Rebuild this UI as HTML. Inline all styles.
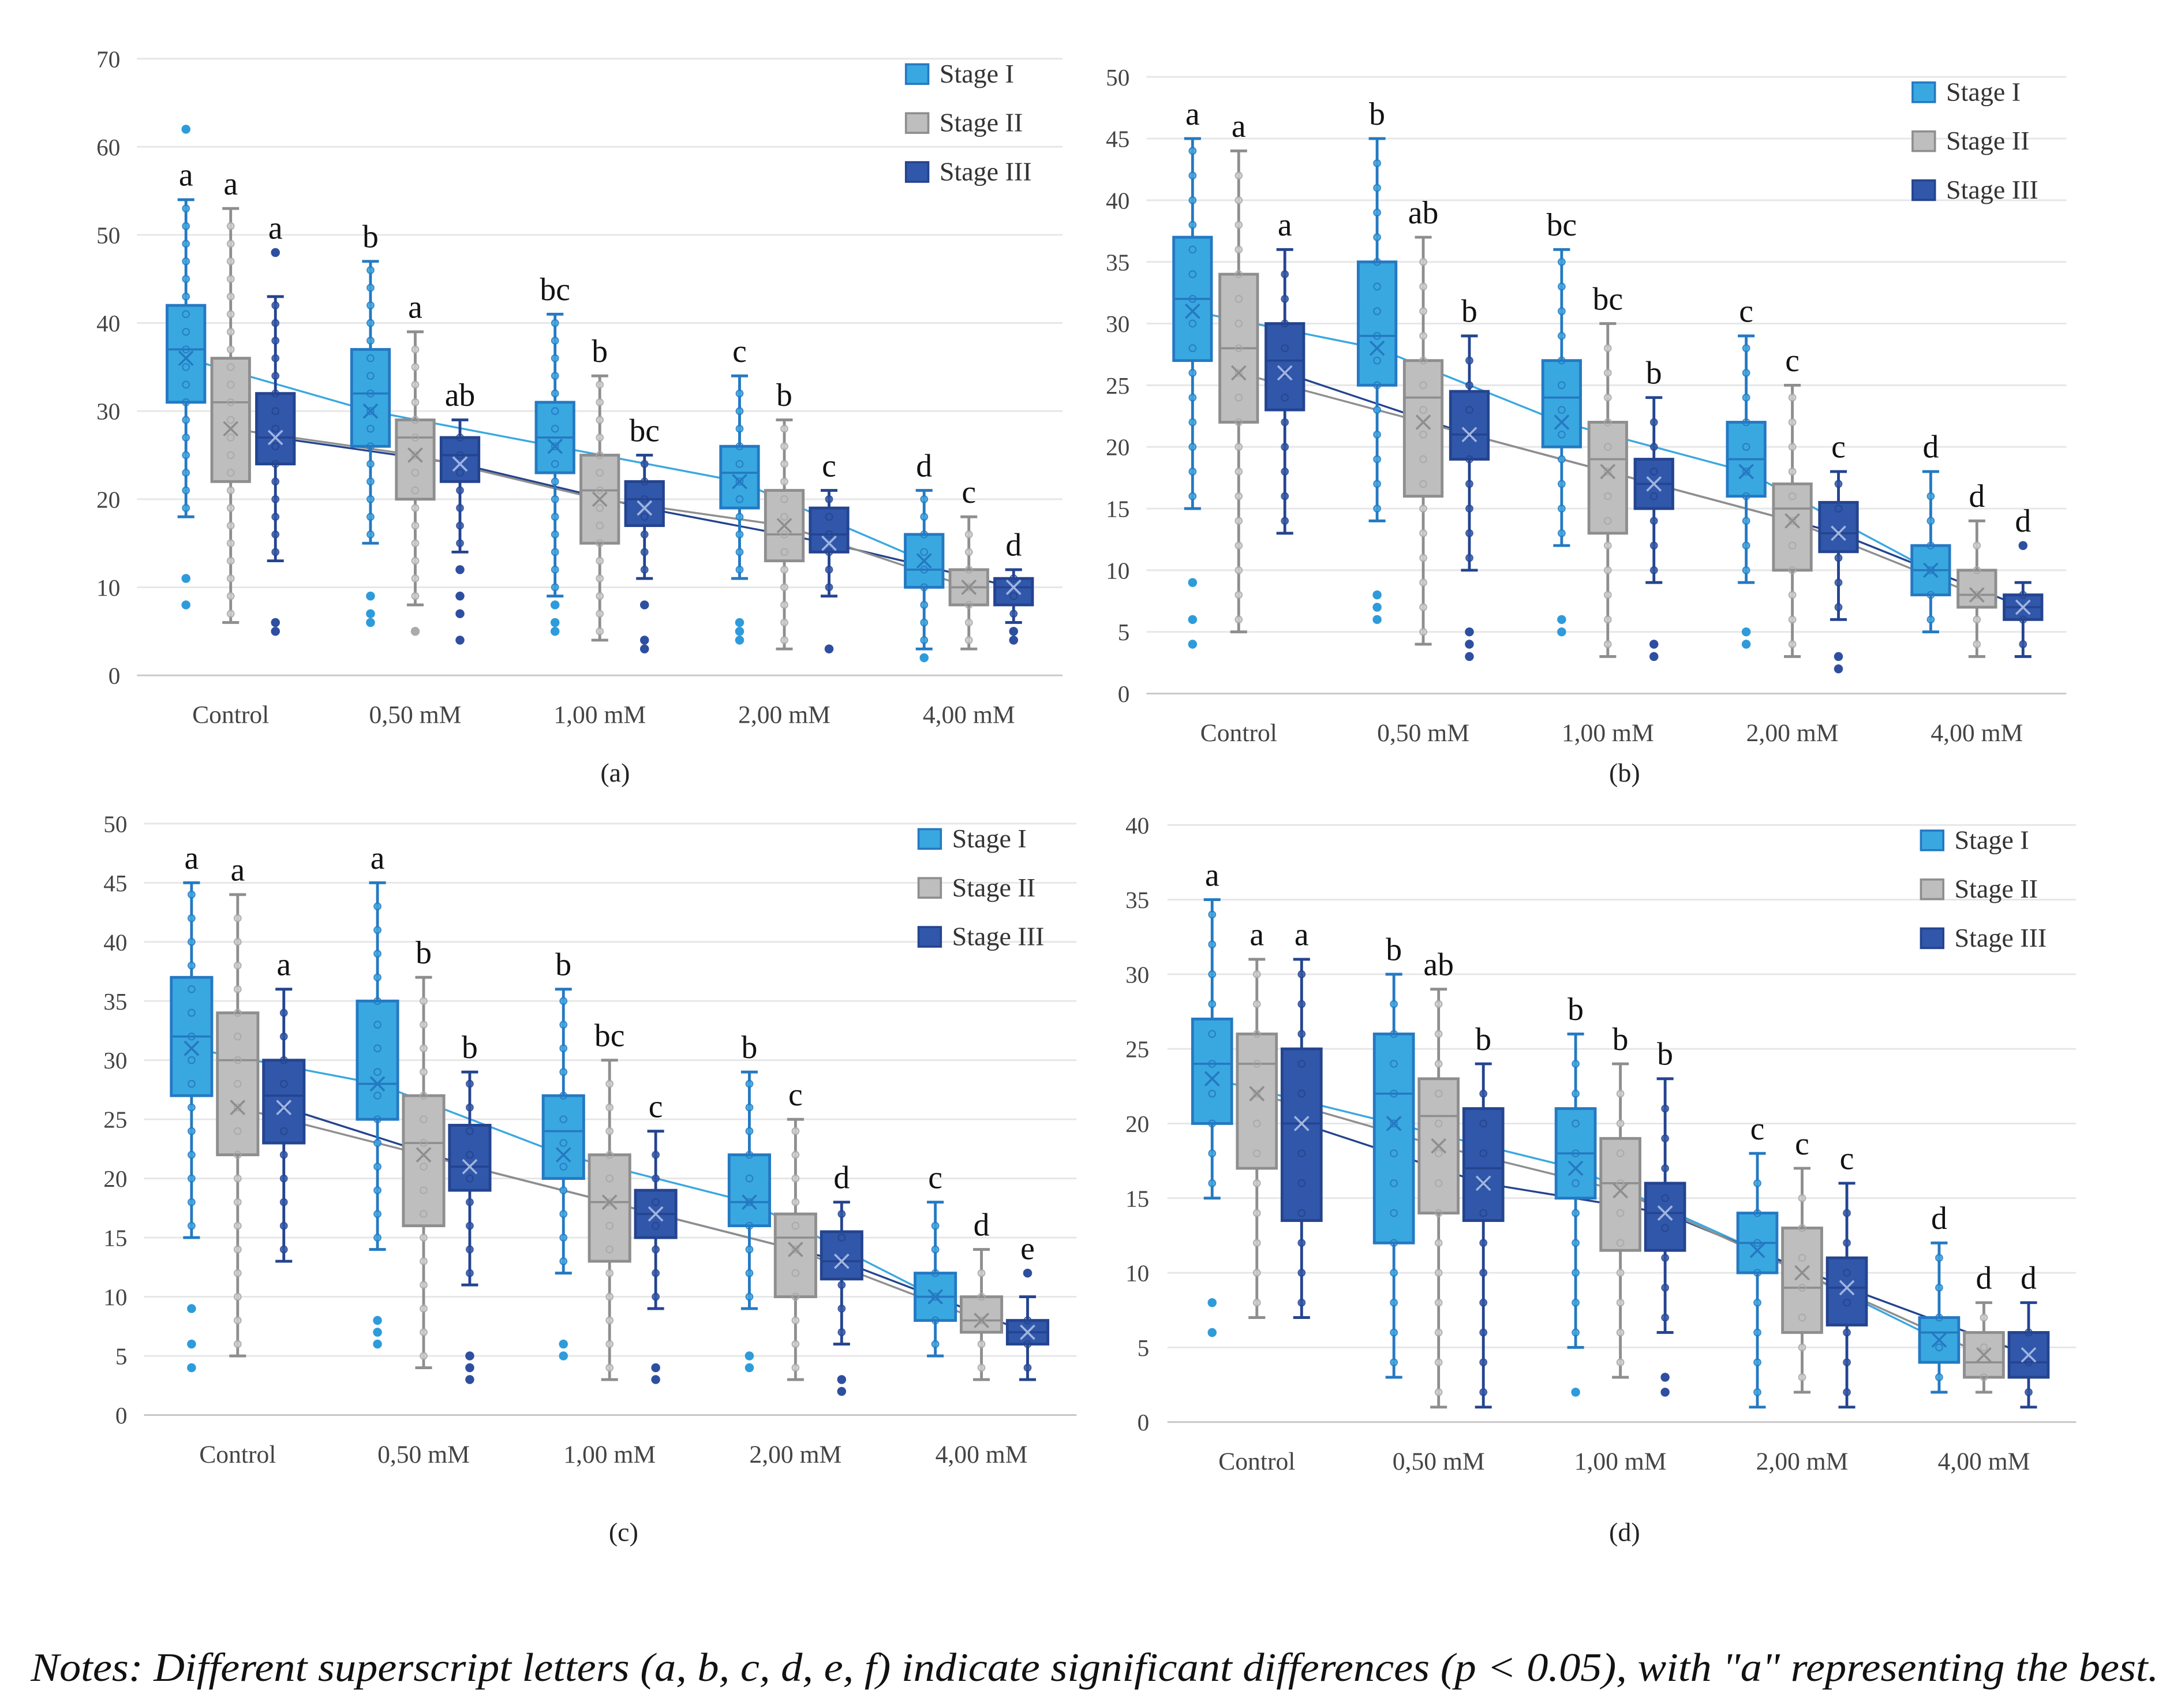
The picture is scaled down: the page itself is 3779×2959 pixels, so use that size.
<!DOCTYPE html>
<html><head><meta charset="utf-8"><style>
html,body{margin:0;padding:0;background:#fff;}
svg{display:block;}
</style></head><body>
<svg id="fig" xmlns="http://www.w3.org/2000/svg" width="3779" height="2959" viewBox="0 0 1560 1221.5">
<rect x="0" y="0" width="1560" height="1221.5" fill="#fff"/>
<text x="22" y="1202" textLength="1522" lengthAdjust="spacingAndGlyphs" font-family="Liberation Serif, serif" font-style="italic" font-size="29" fill="#111">Notes: Different superscript letters (a, b, c, d, e, f) indicate significant differences (p &lt; 0.05), with "a" representing the best.</text>
</svg>
<script>
const categories = ["Control","0,50 mM","1,00 mM","2,00 mM","4,00 mM"];
const stages = ["Stage I","Stage II","Stage III"];
// [low, q1, median, q3, high]
const aStage1 = [[18,31,37,42,54],[15,26,32,37,47],[9,23,27,31,41],[11,19,23,26,34],[3,10,12,16,21]];
const aStage2 = [[6,22,31,36,53],[8,20,27,29,39],[4,15,21,25,34],[3,13,16,21,29],[3,8,10,12,18]];
const aStage3 = [[13,24,27,32,43],[14,22,25,27,29],[11,17,20,22,25],[9,14,16,19,21],[6,8,10,11,12]];
const aMeans = [[36,30,26,22,13],[28,25,20,17,10],[27,24,19,15,10]];
const aLetters = [["a","b","bc","c","d"],["a","a","b","b","c"],["a","ab","bc","c","d"]];
const aOut = [[[62,11,8],[9,7,6],[8,6,5],[6,5,4],[2]],[[],[5],[],[],[]],[[48,6,5],[12,9,7,4],[8,4,3],[3],[5,4]]];

const bStage1 = [[15,27,32,37,45],[14,25,29,35,45],[12,20,24,27,36],[9,16,19,22,29],[5,8,10,12,18]];
const bStage2 = [[5,22,28,34,44],[4,16,24,27,37],[3,13,19,22,30],[3,10,15,17,25],[3,7,8,10,14]];
const bStage3 = [[13,23,27,30,36],[10,19,21,24.5,29],[9,15,17,19,24],[6,11.5,13,15.5,18],[3,6,7,8,9]];
const bMeans = [[31,28,22,18,10],[26,22,18,14,8],[26,21,17,13,7]];
const bLetters = [["a","b","bc","c","d"],["a","ab","bc","c","d"],["a","b","b","c","d"]];
const bOut = [[[9,6,4],[8,7,6],[6,5],[5,4],[]],[[],[],[],[],[]],[[],[5,4,3],[4,3],[3,2],[12]]];

const cStage1 = [[15,27,32,37,45],[14,25,28,35,45],[12,20,24,27,36],[9,16,18,22,29],[5,8,10,12,18]];
const cStage2 = [[5,22,30,34,44],[4,16,23,27,37],[3,13,18,22,30],[3,10,15,17,25],[3,7,8,10,14]];
const cStage3 = [[13,23,27,30,36],[11,19,21,24.5,29],[9,15,17,19,24],[6,11.5,13,15.5,18],[3,6,7,8,10]];
const cMeans = [[31,28,22,18,10],[26,22,18,14,8],[26,21,17,13,7]];
const cLetters = [["a","a","b","b","c"],["a","b","bc","c","d"],["a","b","c","d","e"]];
const cOut = [[[9,6,4],[8,7,6],[6,5],[5,4],[]],[[],[],[],[],[]],[[],[5,4,3],[4,3],[3,2],[12]]];

const dStage1 = [[15,20,24,27,35],[3,12,22,26,30],[5,15,18,21,26],[1,10,12,14,18],[2,4,6,7,12]];
const dStage2 = [[7,17,24,26,31],[1,14,20.5,23,29],[3,11.5,16,19,24],[2,6,9,13,17],[2,3,4,6,8]];
const dStage3 = [[7,13.5,20,25,31],[1,13.5,17,21,24],[6,11.5,14,16,23],[1,6.5,9,11,16],[1,3,4,6,8]];
const dMeans = [[23,20,17,11.5,5.5],[22,18.5,15.5,10,4.5],[20,16,14,9,4.5]];
const dLetters = [["a","b","b","c","d"],["a","ab","b","c","d"],["a","b","b","c","d"]];
const dOut = [[[8,6],[],[2],[],[]],[[],[],[],[],[]],[[],[],[3,2],[],[]]];

const aTicks = [0,10,20,30,40,50,60,70];
const bTicks = [0,5,10,15,20,25,30,35,40,45,50];
const cTicks = [0,5,10,15,20,25,30,35,40,45,50];
const dTicks = [0,5,10,15,20,25,30,35,40];

const NS = "http://www.w3.org/2000/svg";
const svg = document.getElementById("fig");
const fills = ["#3AA8E0","#BEBEBE","#3157AA"];
const strokes = ["#2479C2","#8E8E8E","#24448F"];
const serif = "Liberation Serif, serif";
function mk(tag, attrs, parent){const e=document.createElementNS(NS,tag);for(const k in attrs)e.setAttribute(k,attrs[k]);(parent||svg).appendChild(e);return e;}

function chart(id, cfg, s1, s2, s3, means, letters, outs, ticks){
  const g = mk("g",{});
  
  
  const maxV = ticks[ticks.length-1];
  const y = v => cfg.y0 - (v/maxV)*(cfg.y0-cfg.yTop);
  const x = i => cfg.cx0 + i*cfg.dx;
  ticks.forEach(t=>{
    const gl = mk("line",{x1:cfg.px0,x2:cfg.px1,y1:y(t),y2:y(t),stroke:t===0?"#c8c8c8":"#e6e6e6","stroke-width":1.2},g);
    
    
    const tl = mk("text",{x:cfg.tickX,y:y(t)+6,"text-anchor":"end","font-family":serif,"font-size":17,fill:"#444"},g);
    tl.textContent = t;
    
    
  });
  categories.forEach((c,i)=>{
    const t = mk("text",{x:x(i),y:cfg.y0+34,"text-anchor":"middle","font-family":serif,"font-size":18,fill:"#444"},g);
    t.textContent = c;
    
    
  });
  const data=[s1,s2,s3];
  const off=[-cfg.off,0,cfg.off];
  const w=cfg.bw;
  [0,2,1].forEach(s=>{
    const pts = means[s].map((m,i)=>(x(i)+off[s])+","+y(m)).join(" ");
    const pl = mk("polyline",{points:pts,fill:"none",stroke:s===0?"#3AA8E0":strokes[s],"stroke-width":1.4},g);
    
    
  });
  data.forEach((ser,s)=>{
    ser.forEach((b,i)=>{
      const cx = x(i)+off[s];
      const [lo,q1,md,q3,hi]=b;
      const bg = mk("g",{},g);
      
      
      mk("line",{x1:cx,x2:cx,y1:y(hi),y2:y(lo),stroke:strokes[s],"stroke-width":2},bg);
      mk("line",{x1:cx-6,x2:cx+6,y1:y(hi),y2:y(hi),stroke:strokes[s],"stroke-width":2},bg);
      mk("line",{x1:cx-6,x2:cx+6,y1:y(lo),y2:y(lo),stroke:strokes[s],"stroke-width":2},bg);
      mk("rect",{x:cx-w/2,y:y(q3),width:w,height:y(q1)-y(q3),fill:fills[s],stroke:strokes[s],"stroke-width":2},bg);
      mk("line",{x1:cx-w/2,x2:cx+w/2,y1:y(md),y2:y(md),stroke:strokes[s],"stroke-width":1.5},bg);
      for(let v=Math.ceil(lo)+1; v<hi; v+=cfg.dotStep){
        const inBox = v>=q1 && v<=q3;
        mk("circle",{cx:cx,cy:y(v),r:2.4,fill:inBox?"none":(s===1?"#d0d0d0":fills[s]),stroke:s===1?"#a8a8a8":strokes[s],"stroke-width":0.9,opacity:0.85},bg);
      }
      const mv = means[s][i];
      mk("path",{d:`M${cx-5} ${y(mv)-5}L${cx+5} ${y(mv)+5}M${cx+5} ${y(mv)-5}L${cx-5} ${y(mv)+5}`,stroke:s===2?"#9fb4e0":strokes[s],"stroke-width":1.5},bg);
      outs[s][i].forEach(o=>{
        const oc = mk("circle",{cx:cx,cy:y(o),r:3.2,fill:s===1?"#aaa":(s===0?"#2E9BDB":"#2E4FA0")},bg);
        
        
      });
      const top = Math.max(hi, ...outs[s][i].filter(o=>o>hi && o-hi<=6));
      const lt = mk("text",{x:cx,y:y(top)-10,"text-anchor":"middle","font-family":serif,"font-size":23,fill:"#111"},g);
      lt.textContent = letters[s][i];
      
      
    });
  });
  stages.forEach((st,s)=>{
    const ly = cfg.legY + s*35;
    const lg = mk("g",{},g);
    
    
    mk("rect",{x:cfg.legX,y:ly-8,width:16,height:14,fill:fills[s],stroke:strokes[s],"stroke-width":1.5},lg);
    const tt = mk("text",{x:cfg.legX+24,y:ly+5,"font-family":serif,"font-size":19,fill:"#333"},lg);
    tt.textContent = st;
  });
  const pl = mk("text",{x:cfg.lblX,y:cfg.lblY,"text-anchor":"middle","font-family":serif,"font-size":19,fill:"#222"},g);
  pl.textContent = "("+id+")";
  
  
}

chart("a",{y0:483,yTop:42,cx0:165,dx:132,off:32,bw:27,px0:98,px1:760,tickX:86,legX:648,legY:54,lblX:440,lblY:559,dotStep:2},aStage1,aStage2,aStage3,aMeans,aLetters,aOut,aTicks);
chart("b",{y0:496,yTop:55,cx0:886,dx:132,off:33,bw:27,px0:820,px1:1478,tickX:808,legX:1368,legY:67,lblX:1162,lblY:559,dotStep:2},bStage1,bStage2,bStage3,bMeans,bLetters,bOut,bTicks);
chart("c",{y0:1012,yTop:589,cx0:170,dx:133,off:33,bw:29,px0:103,px1:770,tickX:91,legX:657,legY:601,lblX:446,lblY:1102,dotStep:2},cStage1,cStage2,cStage3,cMeans,cLetters,cOut,cTicks);
chart("d",{y0:1017,yTop:590,cx0:899,dx:130,off:32,bw:28,px0:835,px1:1485,tickX:822,legX:1374,legY:602,lblX:1162,lblY:1102,dotStep:2},dStage1,dStage2,dStage3,dMeans,dLetters,dOut,dTicks);
</script>
</body></html>
